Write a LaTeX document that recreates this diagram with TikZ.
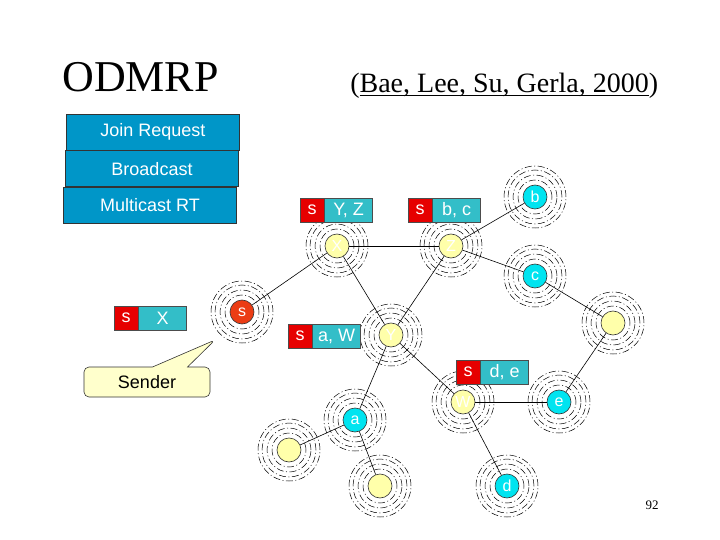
\documentclass[tikz,border=0pt]{standalone}
\usepackage{fontspec}
\setmainfont{Liberation Sans}
\newfontfamily\titlefont{Liberation Serif}
\usepackage{tikz}
\usetikzlibrary{positioning,shapes.callouts}
\definecolor{legblue}{RGB}{0,150,200}
\definecolor{srcred}{RGB}{230,0,0}
\definecolor{tabcyan}{RGB}{51,190,200}
\definecolor{nodecyan}{RGB}{0,228,240}
\definecolor{nodeyellow}{RGB}{255,255,170}
\definecolor{senderred}{RGB}{235,60,20}
\definecolor{noteyellow}{RGB}{255,255,204}
\newcommand\thickul[1]{\setbox0\hbox{#1}\rlap{\rule[-3.5pt]{\wd0}{1.6pt}}\box0}
\tikzset{legend/.style={draw=black!80,fill=legblue,text=white,minimum width=173pt,minimum height=36pt,inner sep=0pt,font=\fontsize{18}{20}\selectfont}}
\tikzset{rt/.style={draw=black!70,fill=srcred,text=white,minimum width=24pt,minimum height=24pt,inner sep=0pt,font=\fontsize{18}{20}\selectfont}}
\tikzset{rtentry/.style={rt,fill=tabcyan,minimum width=48pt}}
\tikzset{host/.style={circle,draw=black!80,minimum size=24pt,inner sep=0pt,text=white,font=\fontsize{16}{18}\selectfont,on grid}}
\tikzset{member/.style={host,fill=nodecyan}}
\tikzset{relay/.style={host,fill=nodeyellow}}
\tikzset{ring/.style={line width=0.5pt,dash pattern=on 7pt off 2.5pt on 1pt off 2.5pt}}

\begin{document}
\begin{tikzpicture}[x=1pt,y=-1pt,line width=0.6pt]
  \useasboundingbox (0,0) rectangle (720,540);
  \node[font=\titlefont\fontsize{44}{48}\selectfont,anchor=base west,inner sep=0pt] (title) at (62,92) {ODMRP};
  \node[font=\titlefont\fontsize{28}{30}\selectfont,anchor=base west,inner sep=0pt] (cite) at (350,93) {(\thickul{Bae, Lee, Su, Gerla, 2000})};
  \node[font=\titlefont\fontsize{13}{14}\selectfont] (page) at (652,505) {92};

  \node[legend] (join) at (153,132) {Join Request};
  \node[legend,below=0pt of join,xshift=-1pt] (bcast) {Broadcast};
  \node[legend,below=0pt of bcast,xshift=-2pt] (mrt) {Multicast RT};

  % network
  \node[host,fill=senderred] (S) at (242,312) {s};
  \node[relay,above right=66pt and 95pt of S] (X) {X};
  \node[relay,right=114pt of X] (Z) {Z};
  \node[member,above right=49pt and 84pt of Z] (b) {b};
  \node[member,below right=30pt and 84pt of Z] (c) {c};
  \node[relay,below right=47pt and 78pt of c] (V) {};
  \node[relay,below right=89pt and 54pt of X] (Y) {Y};
  \node[relay,below right=67pt and 72pt of Y] (W) {W};
  \node[member,right=96pt of W] (e) {e};
  \node[member,below left=85pt and 36pt of Y] (a) {a};
  \node[relay,below left=30pt and 66pt of a] (P) {};
  \node[relay,below right=66pt and 25pt of a] (Q) {};
  \node[member,below right=84pt and 44pt of W] (d) {d};

  \foreach \n in {S,X,Z,b,c,V,Y,W,e,a,P,Q,d}
    \foreach \r in {17,22,27,31}
      \draw[ring] (\n.center) circle (\r pt);

  \draw (X) edge (S) edge (Z) edge (Y);
  \draw (Z) edge (Y) edge (b) edge (c);
  \draw (V) edge (c) edge (e);
  \draw (W) edge (Y) edge (e) edge (d);
  \draw (a) edge (Y) edge (P) edge (Q);

  % routing tables
  \node[rt] (sX) at (126,318) {s};
  \node[rtentry,right=0pt of sX] (tX) {X};
  \node[rt] (sYZ) at (312,210) {s};
  \node[rtentry,right=0pt of sYZ] (tYZ) {Y, Z};
  \node[rt] (sbc) at (420,210) {s};
  \node[rtentry,right=0pt of sbc] (tbc) {b, c};
  \node[rt] (saW) at (300,336) {s};
  \node[rtentry,right=0pt of saW] (taW) {a, W};
  \node[rt] (sde) at (468,372) {s};
  \node[rtentry,right=0pt of sde] (tde) {d, e};

  \node[rectangle callout,draw=black!80,fill=noteyellow,rounded corners=5pt,minimum width=126pt,minimum height=30pt,
        callout absolute pointer={(215,340)},callout pointer width=35pt,font=\fontsize{18}{20}\selectfont] (sender) at (147,382) {Sender};
\end{tikzpicture}
\end{document}
